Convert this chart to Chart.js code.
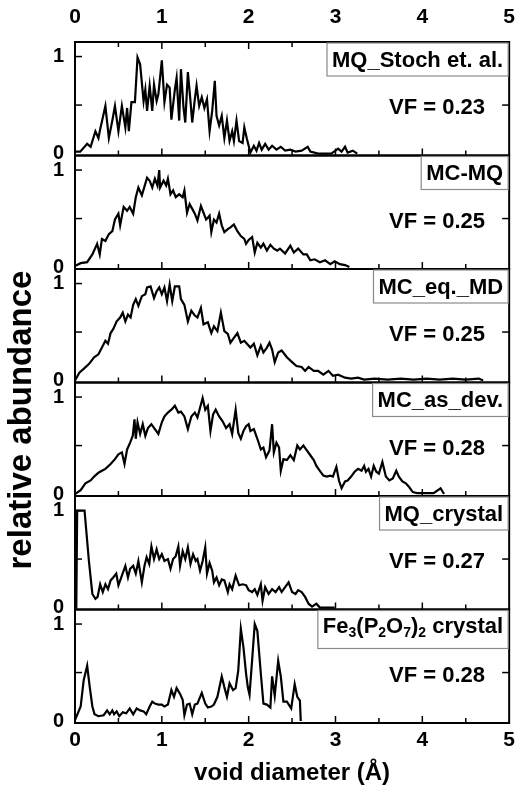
<!DOCTYPE html>
<html>
<head>
<meta charset="utf-8">
<script src="https://cdn.jsdelivr.net/npm/chart.js@4.4.0/dist/chart.umd.min.js"></script>
<style>
  html, body { margin: 0; padding: 0; background: #fff; }
  #wrap { width: 527px; height: 788px; }
</style>
</head>
<body>
<div id="wrap"><canvas id="voidChart" width="527" height="788"></canvas></div>
<script>
// void diameter (Å) vs relative abundance, one panel per model
const xTicks = [0, 1, 2, 3, 4, 5];
const yTicks = [0, 0.5, 1];

const panelNames = ['MQ_Stoch et. al.', 'MC-MQ', 'MC_eq._MD', 'MC_as_dev.', 'MQ_crystal', 'Fe_{3}(P_{2}O_{7})_{2} crystal'];
const vfLabels = ['VF = 0.23', 'VF = 0.25', 'VF = 0.25', 'VF = 0.28', 'VF = 0.27', 'VF = 0.28'];

const mqStoch = [[0,0.02],[0.06,0.02],[0.1,0.06],[0.14,0.1],[0.18,0.07],[0.235,0.23],[0.27,0.16],[0.29,0.25],[0.35,0.49],[0.39,0.16],[0.43,0.34],[0.46,0.49],[0.5,0.23],[0.54,0.49],[0.58,0.27],[0.6,0.47],[0.62,0.23],[0.65,0.53],[0.69,0.53],[0.72,0.99],[0.75,0.92],[0.79,0.54],[0.81,0.66],[0.83,0.44],[0.86,0.7],[0.89,0.44],[0.91,0.71],[0.94,0.54],[0.96,0.61],[1.0,0.96],[1.03,0.53],[1.06,0.71],[1.09,0.68],[1.11,0.35],[1.15,0.66],[1.17,0.78],[1.2,0.34],[1.22,0.87],[1.25,0.47],[1.27,0.32],[1.3,0.84],[1.33,0.54],[1.35,0.32],[1.38,0.56],[1.4,0.7],[1.43,0.49],[1.46,0.58],[1.49,0.47],[1.52,0.56],[1.55,0.23],[1.58,0.44],[1.61,0.75],[1.63,0.39],[1.66,0.29],[1.69,0.39],[1.72,0.16],[1.75,0.34],[1.78,0.13],[1.81,0.23],[1.83,0.13],[1.86,0.34],[1.89,0.13],[1.93,0.11],[1.95,0.27],[1.98,0.15],[2.02,0.01],[2.06,0.08],[2.09,0.03],[2.12,0.11],[2.15,0.04],[2.19,0.1],[2.23,0.04],[2.27,0.08],[2.32,0.04],[2.37,0.07],[2.42,0.03],[2.48,0.04],[2.54,0.02],[2.61,0.03],[2.68,0.07],[2.71,0.02],[2.8,0],[2.95,0],[3.0,0.03],[3.03,0.05],[3.07,0.02],[3.11,0.07],[3.14,0.01],[3.2,0.03],[3.25,0]];

const mcMq = [[0,0.01],[0.065,0.04],[0.14,0.05],[0.2,0.13],[0.255,0.24],[0.285,0.13],[0.31,0.29],[0.35,0.27],[0.39,0.34],[0.43,0.37],[0.46,0.49],[0.5,0.55],[0.52,0.43],[0.56,0.62],[0.6,0.58],[0.63,0.62],[0.67,0.55],[0.7,0.72],[0.73,0.82],[0.77,0.74],[0.81,0.86],[0.83,0.92],[0.86,0.89],[0.89,0.82],[0.92,0.91],[0.95,0.84],[0.97,1.0],[0.98,0.82],[1.02,0.89],[1.05,0.84],[1.07,0.91],[1.1,0.75],[1.13,0.79],[1.16,0.72],[1.2,0.75],[1.24,0.72],[1.26,0.79],[1.29,0.56],[1.32,0.65],[1.35,0.6],[1.38,0.55],[1.41,0.48],[1.45,0.63],[1.48,0.56],[1.51,0.49],[1.55,0.53],[1.57,0.36],[1.6,0.49],[1.63,0.46],[1.66,0.55],[1.69,0.43],[1.72,0.36],[1.76,0.39],[1.79,0.41],[1.83,0.44],[1.87,0.37],[1.91,0.32],[1.95,0.29],[1.97,0.24],[2.0,0.28],[2.04,0.31],[2.07,0.15],[2.1,0.25],[2.14,0.2],[2.17,0.24],[2.21,0.17],[2.25,0.23],[2.29,0.19],[2.33,0.17],[2.36,0.19],[2.42,0.14],[2.48,0.22],[2.52,0.15],[2.57,0.19],[2.63,0.13],[2.67,0.13],[2.71,0.07],[2.76,0.08],[2.82,0.05],[2.88,0.07],[2.94,0.03],[2.99,0.06],[3.05,0.03],[3.11,0.02],[3.16,0]];

const mcEqMd = [[0,0],[0.05,0.08],[0.1,0.12],[0.16,0.17],[0.22,0.24],[0.27,0.27],[0.31,0.34],[0.35,0.41],[0.38,0.38],[0.41,0.49],[0.44,0.53],[0.48,0.61],[0.52,0.65],[0.55,0.7],[0.58,0.61],[0.61,0.68],[0.64,0.65],[0.67,0.78],[0.7,0.84],[0.73,0.77],[0.77,0.87],[0.81,0.89],[0.83,0.96],[0.87,0.97],[0.91,0.85],[0.94,0.92],[0.97,0.96],[1.0,0.89],[1.03,0.96],[1.06,0.82],[1.09,0.99],[1.12,0.82],[1.15,0.97],[1.2,0.97],[1.22,0.84],[1.26,0.78],[1.3,0.61],[1.34,0.72],[1.38,0.67],[1.41,0.65],[1.45,0.75],[1.48,0.58],[1.53,0.6],[1.57,0.49],[1.6,0.56],[1.64,0.51],[1.68,0.7],[1.72,0.51],[1.76,0.48],[1.79,0.39],[1.83,0.44],[1.87,0.49],[1.91,0.39],[1.95,0.41],[1.98,0.38],[2.02,0.34],[2.06,0.38],[2.1,0.26],[2.14,0.36],[2.17,0.29],[2.21,0.34],[2.24,0.39],[2.27,0.32],[2.3,0.19],[2.34,0.29],[2.38,0.31],[2.44,0.24],[2.5,0.19],[2.55,0.15],[2.61,0.14],[2.65,0.1],[2.69,0.14],[2.75,0.1],[2.8,0.1],[2.86,0.06],[2.92,0.1],[2.97,0.05],[3.03,0.06],[3.11,0.03],[3.18,0.02],[3.26,0.03],[3.33,0.01],[3.45,0.02],[3.6,0.01],[3.75,0.02],[3.9,0.01],[4.05,0.02],[4.2,0.01],[4.35,0.02],[4.5,0.01],[4.65,0.02],[4.7,0]];

const mcAsDev = [[0,0],[0.065,0.04],[0.12,0.11],[0.18,0.14],[0.22,0.18],[0.27,0.22],[0.31,0.24],[0.35,0.26],[0.41,0.31],[0.46,0.36],[0.5,0.41],[0.54,0.43],[0.57,0.31],[0.6,0.46],[0.635,0.53],[0.665,0.6],[0.685,0.77],[0.7,0.57],[0.72,0.74],[0.75,0.62],[0.78,0.72],[0.81,0.6],[0.84,0.68],[0.88,0.72],[0.92,0.67],[0.96,0.62],[1.0,0.74],[1.03,0.8],[1.07,0.84],[1.11,0.87],[1.15,0.91],[1.19,0.84],[1.22,0.85],[1.26,0.8],[1.3,0.67],[1.34,0.8],[1.38,0.84],[1.41,0.79],[1.44,0.89],[1.47,0.99],[1.5,0.87],[1.53,0.91],[1.56,0.65],[1.59,0.82],[1.62,0.87],[1.66,0.8],[1.7,0.75],[1.74,0.68],[1.78,0.72],[1.81,0.62],[1.85,0.87],[1.88,0.63],[1.91,0.57],[1.94,0.65],[1.97,0.7],[2.0,0.72],[2.02,0.65],[2.06,0.67],[2.1,0.57],[2.14,0.46],[2.17,0.48],[2.2,0.38],[2.24,0.45],[2.27,0.72],[2.29,0.43],[2.32,0.53],[2.35,0.48],[2.37,0.24],[2.4,0.36],[2.44,0.35],[2.48,0.4],[2.52,0.35],[2.56,0.5],[2.59,0.46],[2.63,0.5],[2.67,0.45],[2.71,0.4],[2.75,0.35],[2.78,0.29],[2.82,0.24],[2.86,0.19],[2.9,0.18],[2.94,0.19],[2.97,0.18],[3.01,0.28],[3.04,0.14],[3.07,0.06],[3.11,0.13],[3.14,0.14],[3.18,0.18],[3.22,0.23],[3.26,0.26],[3.3,0.24],[3.33,0.29],[3.35,0.23],[3.38,0.26],[3.41,0.18],[3.44,0.29],[3.47,0.23],[3.5,0.21],[3.54,0.33],[3.58,0.18],[3.62,0.14],[3.66,0.16],[3.7,0.24],[3.73,0.18],[3.77,0.13],[3.81,0.11],[3.85,0.07],[3.89,0.02],[3.94,0.01],[4.13,0.01],[4.21,0.06],[4.25,0]];

const mqCrystal = [[0,0],[0.015,0],[0.025,1.0],[0.11,1.0],[0.16,0.48],[0.2,0.14],[0.235,0.09],[0.26,0.11],[0.29,0.24],[0.32,0.16],[0.35,0.24],[0.38,0.19],[0.41,0.28],[0.44,0.31],[0.475,0.35],[0.5,0.23],[0.54,0.33],[0.58,0.43],[0.61,0.31],[0.635,0.4],[0.67,0.43],[0.7,0.35],[0.73,0.48],[0.77,0.26],[0.8,0.43],[0.825,0.52],[0.855,0.45],[0.88,0.63],[0.91,0.5],[0.94,0.6],[0.97,0.5],[1.0,0.55],[1.03,0.48],[1.07,0.5],[1.1,0.4],[1.13,0.5],[1.16,0.53],[1.19,0.63],[1.21,0.43],[1.24,0.58],[1.27,0.5],[1.3,0.62],[1.33,0.45],[1.36,0.55],[1.39,0.48],[1.41,0.5],[1.44,0.38],[1.47,0.48],[1.5,0.62],[1.52,0.35],[1.55,0.46],[1.58,0.38],[1.6,0.26],[1.63,0.31],[1.66,0.23],[1.69,0.29],[1.72,0.28],[1.76,0.16],[1.78,0.24],[1.81,0.19],[1.85,0.33],[1.89,0.23],[1.93,0.24],[1.97,0.23],[2.0,0.18],[2.04,0.16],[2.07,0.19],[2.1,0.13],[2.14,0.24],[2.16,0.07],[2.19,0.21],[2.23,0.14],[2.27,0.19],[2.31,0.16],[2.35,0.21],[2.38,0.16],[2.42,0.21],[2.46,0.26],[2.5,0.16],[2.54,0.14],[2.57,0.18],[2.61,0.16],[2.65,0.11],[2.69,0.04],[2.73,0.01],[2.78,0.04],[2.82,0],[2.99,0]];

const feCrystal = [[0,0.01],[0.065,0.15],[0.1,0.42],[0.14,0.57],[0.17,0.35],[0.2,0.15],[0.225,0.07],[0.27,0.05],[0.33,0.06],[0.37,0.11],[0.4,0.07],[0.43,0.11],[0.45,0.07],[0.48,0.1],[0.51,0.05],[0.55,0.09],[0.59,0.08],[0.63,0.13],[0.67,0.07],[0.71,0.13],[0.75,0.11],[0.79,0.1],[0.82,0.07],[0.86,0.15],[0.89,0.2],[0.92,0.18],[0.96,0.17],[1.0,0.17],[1.03,0.15],[1.07,0.17],[1.11,0.32],[1.14,0.25],[1.17,0.34],[1.21,0.28],[1.24,0.22],[1.26,0.06],[1.29,0.17],[1.32,0.18],[1.35,0.07],[1.38,0.17],[1.41,0.18],[1.46,0.29],[1.5,0.18],[1.53,0.14],[1.57,0.15],[1.6,0.17],[1.64,0.25],[1.69,0.46],[1.72,0.35],[1.75,0.25],[1.78,0.39],[1.82,0.32],[1.85,0.34],[1.88,0.52],[1.91,0.95],[1.94,0.76],[1.97,0.49],[1.99,0.35],[2.01,0.27],[2.04,0.63],[2.07,1.0],[2.1,0.93],[2.14,0.49],[2.17,0.18],[2.21,0.17],[2.25,0.14],[2.27,0.46],[2.3,0.26],[2.34,0.62],[2.37,0.46],[2.4,0.2],[2.44,0.2],[2.49,0.13],[2.53,0.38],[2.56,0.25],[2.59,0.21],[2.6,0]];

const seriesList = [mqStoch, mcMq, mcEqMd, mcAsDev, mqCrystal, feCrystal];
const panelIds = ['p1', 'p2', 'p3', 'p4', 'p5', 'p6'];

const FONT = "'Liberation Sans', Arial, sans-serif";
const boldFont = size => ({ family: FONT, size: size, weight: 'bold' });

const scales = {
  x: {
    type: 'linear', position: 'bottom', min: 0, max: 5,
    afterBuildTicks: s => { s.ticks = xTicks.map(v => ({ value: v })); },
    afterFit: s => { s.height = 65; },
    grid: { display: false, drawTicks: false },
    border: { display: false },
    ticks: { color: '#000', font: boldFont(21), padding: 5, maxRotation: 0 },
    title: { display: true, text: 'void diameter (Å)', color: '#000', font: boldFont(24), padding: { top: 0, bottom: 0 } }
  },
  xTop: {
    type: 'linear', position: 'top', min: 0, max: 5,
    afterBuildTicks: s => { s.ticks = xTicks.map(v => ({ value: v })); },
    afterFit: s => { s.height = 42; },
    grid: { display: false, drawTicks: false },
    border: { display: false },
    ticks: { color: '#000', font: boldFont(21), padding: 12, maxRotation: 0 }
  }
};

// stacked left axes are laid out last-defined first, so add them bottom-up
panelIds.slice().reverse().forEach(id => {
  scales[id] = {
    type: 'linear', position: 'left', stack: 'panels', stackWeight: 1,
    min: -0.02, max: 1.15,
    afterBuildTicks: s => { s.ticks = yTicks.map(v => ({ value: v })); },
    afterFit: s => { s.width = 75; },
    grid: { display: false, drawTicks: false },
    border: { display: false },
    ticks: {
      color: '#000', font: boldFont(20), padding: 11,
      callback: v => (v === 0.5 ? '' : String(v))
    }
  };
});

// draw text with _{..} as subscripts
function drawRich(ctx, text, x, y, size) {
  const parts = text.split(/(_\{[^}]*\})/).filter(p => p.length);
  let cx = x;
  parts.forEach(p => {
    if (p.startsWith('_{')) {
      ctx.font = 'bold ' + Math.round(size * 0.62) + 'px ' + FONT;
      const t = p.slice(2, -1);
      ctx.fillText(t, cx, y + size * 0.28);
      cx += ctx.measureText(t).width;
    } else {
      ctx.font = 'bold ' + size + 'px ' + FONT;
      ctx.fillText(p, cx, y);
      cx += ctx.measureText(p).width;
    }
  });
  return cx - x;
}

function richWidth(ctx, text, size) {
  const parts = text.split(/(_\{[^}]*\})/).filter(p => p.length);
  let w = 0;
  parts.forEach(p => {
    if (p.startsWith('_{')) {
      ctx.font = 'bold ' + Math.round(size * 0.62) + 'px ' + FONT;
      w += ctx.measureText(p.slice(2, -1)).width;
    } else {
      ctx.font = 'bold ' + size + 'px ' + FONT;
      w += ctx.measureText(p).width;
    }
  });
  return w;
}

const panelDecor = {
  id: 'panelDecor',
  afterDatasetsDraw(chart) {
    const ctx = chart.ctx;
    const xs = chart.scales.x;
    const area = chart.chartArea;
    ctx.save();
    ctx.strokeStyle = '#000';
    ctx.fillStyle = '#000';

    const line = (x1, y1, x2, y2) => { ctx.beginPath(); ctx.moveTo(x1, y1); ctx.lineTo(x2, y2); ctx.stroke(); };

    panelIds.forEach((id, i) => {
      const ys = chart.scales[id];
      // frame
      ctx.lineWidth = 2;
      ctx.strokeRect(area.left, ys.top, area.right - area.left, ys.bottom - ys.top);

      // inward ticks
      ctx.lineWidth = 1.5;
      for (let v = 0.5; v < 5; v += 0.5) {
        const px = xs.getPixelForValue(v);
        const len = Number.isInteger(v) ? 7 : 5;
        line(px, ys.bottom, px, ys.bottom - len);
        if (i === 0) line(px, ys.top, px, ys.top + len);
      }
      [0.5, 1].forEach(v => {
        const py = ys.getPixelForValue(v);
        line(area.left, py, area.left + 7, py);
        line(area.right, py, area.right - 7, py);
      });

      // name box
      const size = 22;
      const name = panelNames[i];
      const tw = richWidth(ctx, name, size);
      const hasSub = name.indexOf('_{') >= 0;
      const bh = hasSub ? 38 : 33;
      const bw = tw + 10;
      const bx = area.right - bw - 1;
      const by = ys.top + 1;
      ctx.fillStyle = '#fff';
      ctx.fillRect(bx, by, bw, bh);
      ctx.strokeStyle = '#8a8a8a';
      ctx.lineWidth = 1.2;
      ctx.strokeRect(bx, by, bw, bh);
      ctx.fillStyle = '#000';
      ctx.strokeStyle = '#000';
      ctx.textBaseline = 'middle';
      ctx.textAlign = 'left';
      drawRich(ctx, name, bx + 5, by + (hasSub ? 16 : bh / 2 + 1), size);

      // VF label
      ctx.font = 'bold 22px ' + FONT;
      ctx.textAlign = 'center';
      ctx.fillText(vfLabels[i], xs.getPixelForValue(4.17), ys.getPixelForValue(0.47));
    });

    // y title
    ctx.save();
    ctx.translate(22, 420);
    ctx.rotate(-Math.PI / 2);
    ctx.font = 'bold 33px ' + FONT;
    ctx.textAlign = 'center';
    ctx.textBaseline = 'middle';
    ctx.fillText('relative abundance', 0, 0);
    ctx.restore();

    ctx.restore();
  }
};

new Chart(document.getElementById('voidChart'), {
  type: 'line',
  data: {
    datasets: seriesList.map((s, i) => ({
      label: panelNames[i],
      data: s.map(p => ({ x: p[0], y: p[1] })),
      yAxisID: panelIds[i],
      xAxisID: 'x',
      borderColor: '#000',
      borderWidth: 2.2,
      pointRadius: 0,
      tension: 0,
      fill: false
    }))
  },
  options: {
    responsive: false,
    animation: false,
    layout: { padding: { left: 0, right: 14, top: 0, bottom: 0 } },
    plugins: { legend: { display: false }, tooltip: { enabled: false } },
    scales: scales
  },
  plugins: [panelDecor]
});
</script>
</body>
</html>
